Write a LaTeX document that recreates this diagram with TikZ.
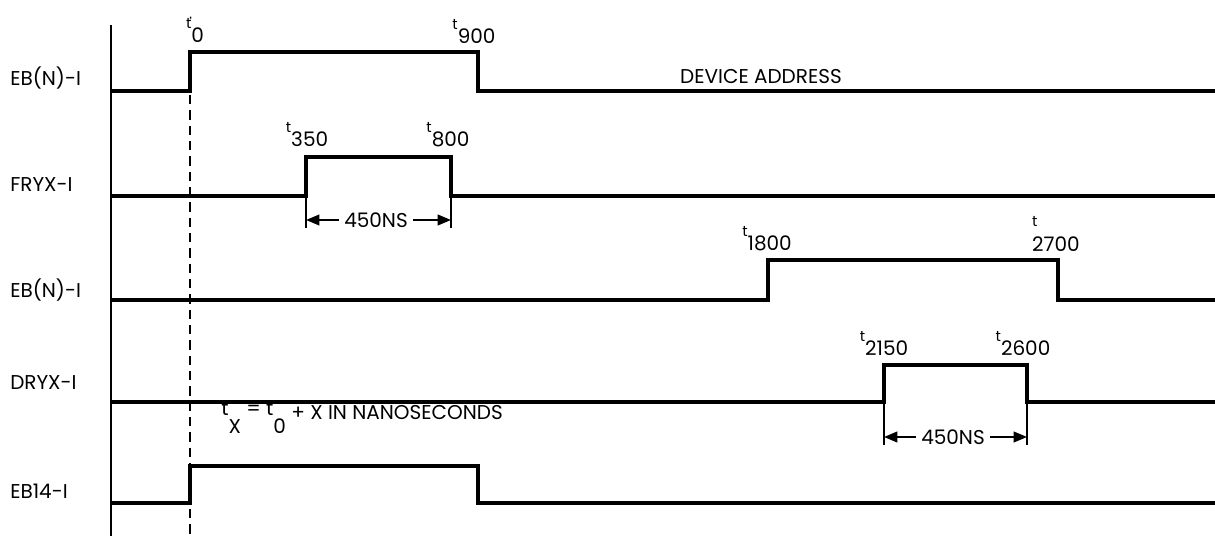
\documentclass[tikz,border=0pt]{standalone}
\usepackage{fontspec}
\setmainfont{Poppins}
\usetikzlibrary{arrows.meta}
\newcommand{\sigfont}{\fontsize{15}{17}\selectfont}
\newcommand{\tsmall}{\fontsize{11}{12}\selectfont}
\newcommand{\tmark}[1]{\raisebox{0.7em}{\tsmall t}#1}
\begin{document}
\begin{tikzpicture}[
        x=0.75pt, y=-0.75pt,
        signal/.style={draw, line width=2.3pt},
        axis line/.style={draw, line width=1.5pt},
        start line/.style={draw, line width=1.5pt, dash pattern=on 7pt off 4.5pt},
        extension/.style={draw, line width=1.5pt},
        sig label/.style={anchor=west, font=\sigfont, inner sep=0pt},
        time label/.style={anchor=base, font=\sigfont, inner sep=0pt},
        dim arrow/.style={draw, line width=1.5pt, {Triangle[length=10pt,width=8pt]}-{Triangle[length=10pt,width=8pt]}},
        dim text/.style={fill=white, inner sep=4pt, font=\sigfont}
    ]
	\useasboundingbox (0,0) rectangle (1215,538);
	\node[sig label] (name_1) at (10,78) {EB(N)-I};
	\node[sig label] (name_2) at (10,185) {FRYX-I};
	\node[sig label] (name_3) at (10,290) {EB(N)-I};
	\node[sig label] (name_4) at (10,383) {DRYX-I};
	\node[sig label] (name_5) at (10,491) {EB14-I};
	\draw[axis line] (111,25) -- (111,536);
	\draw[start line] (190,95) -- (190,536);
	\draw[signal] (111,91) -- (190,91) -- (190,52) -- (478,52) -- (478,91) -- (1215,91);
	\draw[signal] (111,196) -- (306,196) -- (306,157) -- (451,157) -- (451,196) -- (1215,196);
	\draw[signal] (111,300) -- (768,300) -- (768,260) -- (1058,260) -- (1058,300) -- (1215,300);
	\draw[signal] (111,402) -- (884,402) -- (884,365) -- (1027,365) -- (1027,402) -- (1215,402);
	\draw[signal] (111,503) -- (190,503) -- (190,466) -- (478,466) -- (478,503) -- (1215,503);
	\node[time label] (t_0) at (195,43) {\raisebox{0.7em}{\tsmall ť}0};
	\node[time label] (t_900) at (474,44) {\tmark{900}};
	\node[time label] (t_350) at (307,147) {\tmark{350}};
	\node[time label] (t_800) at (448,147) {\tmark{800}};
	\node[time label] (t_1800) at (767,251) {\tmark{1800}};
	\node[time label] (t_2700) at (1056,252) {\raisebox{1.25em}{\tsmall t}\kern-4pt 2700};
	\node[time label] (t_2150) at (884,356) {\tmark{2150}};
	\node[time label] (t_2600) at (1023,356) {\tmark{2600}};
	\node[sig label, anchor=base] (dev_addr) at (761,84) {DEVICE ADDRESS};
	\node[sig label, anchor=base west] (t_def) at (221,420) {\raisebox{3pt}{t}\raisebox{-10pt}{X} \raisebox{3pt}{= t}\raisebox{-10pt}{0} + X IN NANOSECONDS};
	\draw[extension] (306,196) -- (306,228);
	\draw[extension] (451,196) -- (451,228);
	\draw[extension] (884,402) -- (884,445);
	\draw[extension] (1027,402) -- (1027,445);
	\coordinate (d_1a) at (306,220);
	\coordinate (d_1b) at (451,220);
	\coordinate (d_2a) at (884,437);
	\coordinate (d_2b) at (1027,437);
	\draw[dim arrow] (d_1a) -- (d_1b);
	\draw[dim arrow] (d_2a) -- (d_2b);
	\node[dim text] (w_1) at (376,220) {450NS};
	\node[dim text] (w_2) at (953,437) {450NS};
\end{tikzpicture}
\end{document}
